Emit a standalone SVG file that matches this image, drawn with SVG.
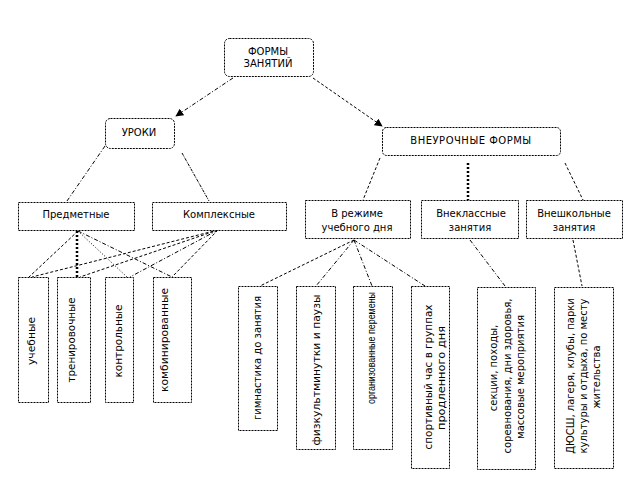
<svg xmlns="http://www.w3.org/2000/svg" width="624" height="479" viewBox="0 0 624 479">
<defs>
<style>
.box{fill:#fff;stroke:#000;stroke-width:1;stroke-dasharray:2,1}
.t{font-family:"DejaVu Sans",Verdana,sans-serif;font-size:10px;fill:#000;text-anchor:middle}
.n{font-family:"Liberation Sans",Arial,sans-serif}
.c{fill:none;stroke:#000;stroke-width:1}
.dd{stroke-dasharray:4,2,1,2}
.ds{stroke-dasharray:3,2}
.dt{stroke-dasharray:1,2}
.dk{stroke-width:2.5;stroke-dasharray:2,2}
.ddd{stroke-dasharray:3,1,1,1}
</style>
<marker id="ah" viewBox="0 0 10 10" refX="9" refY="5" markerWidth="8" markerHeight="8" markerUnits="userSpaceOnUse" orient="auto">
<path d="M0,0 L10,5 L0,10 Z" fill="#000"/>
</marker>
</defs>
<rect width="624" height="479" fill="#fff"/>
<g id="connectors">
<line class="c dd" x1="233" y1="78" x2="176" y2="116" marker-end="url(#ah)"/>
<line class="c ds" x1="313" y1="78" x2="382" y2="126" marker-end="url(#ah)"/>
<line class="c dd" x1="105" y1="146" x2="67" y2="201"/>
<line class="c ddd" x1="182" y1="153" x2="209" y2="201"/>
<line class="c ds" x1="380" y1="158" x2="363" y2="200"/>
<line class="c dk" x1="468" y1="163" x2="468" y2="200"/>
<line class="c ds" x1="565" y1="163" x2="583" y2="200"/>
<line class="c ds" x1="78" y1="231" x2="29" y2="277"/>
<line class="c dk" x1="77" y1="231" x2="77" y2="277"/>
<line class="c dt" x1="78" y1="231" x2="127" y2="277"/>
<line class="c dd" x1="78" y1="231" x2="172" y2="277"/>
<line class="c ds" x1="218" y1="230" x2="32" y2="277"/>
<line class="c ds" x1="218" y1="230" x2="80" y2="277"/>
<line class="c dd" x1="218" y1="230" x2="130" y2="277"/>
<line class="c ds" x1="218" y1="230" x2="172" y2="277"/>
<line class="c ds" x1="354" y1="240" x2="260" y2="286"/>
<line class="c dd" x1="354" y1="240" x2="316" y2="286"/>
<line class="c dd" x1="354" y1="240" x2="372" y2="286"/>
<line class="c dd" x1="354" y1="240" x2="425" y2="286"/>
<line class="c dd" x1="470" y1="240" x2="505" y2="286"/>
<line class="c ds" x1="573" y1="240" x2="582" y2="286"/>
</g>
<g id="n-formy">
<rect class="box" x="224.5" y="38.5" width="89" height="38" rx="5"/>
<text class="t" x="268" y="55">ФОРМЫ</text>
<text class="t" x="268" y="67">ЗАНЯТИЙ</text>
</g>
<g id="n-uroki">
<rect class="box" x="105.5" y="118.5" width="69" height="30" rx="5"/>
<text class="t" x="139" y="136">УРОКИ</text>
</g>
<g id="n-vneur">
<rect class="box" x="382.5" y="127.5" width="178" height="28" rx="4"/>
<text class="t" x="471" y="144" style="letter-spacing:0.5px">ВНЕУРОЧНЫЕ ФОРМЫ</text>
</g>
<g id="n-predm">
<rect class="box" x="18.5" y="202.5" width="116" height="28"/>
<text class="t" x="76" y="218">Предметные</text>
</g>
<g id="n-kompl">
<rect class="box" x="152.5" y="202.5" width="134" height="28"/>
<text class="t" x="219" y="218">Комплексные</text>
</g>
<g id="n-rezhim">
<rect class="box" x="305.5" y="200.5" width="105" height="38"/>
<text class="t" x="357" y="217">В режиме</text>
<text class="t" x="357" y="231">учебного дня</text>
</g>
<g id="n-vnekl">
<rect class="box" x="421.5" y="200.5" width="97" height="38"/>
<text class="t" x="471" y="217">Внеклассные</text>
<text class="t" x="470" y="231">занятия</text>
</g>
<g id="n-vnesh">
<rect class="box" x="526.5" y="200.5" width="96" height="38"/>
<text class="t" x="574" y="217">Внешкольные</text>
<text class="t" x="574" y="231">занятия</text>
</g>
<g id="n-uchebnye">
<rect class="box" x="18.5" y="277.5" width="30" height="125"/>
<text class="t" transform="translate(35,341) rotate(-90)" textLength="48" lengthAdjust="spacingAndGlyphs">учебные</text>
</g>
<g id="n-trenir">
<rect class="box" x="57.5" y="277.5" width="33" height="125"/>
<text class="t" transform="translate(75,340) rotate(-90)" textLength="85" lengthAdjust="spacingAndGlyphs">тренировочные</text>
</g>
<g id="n-kontr">
<rect class="box" x="105.5" y="277.5" width="28" height="125"/>
<text class="t" transform="translate(122,341) rotate(-90)" textLength="73" lengthAdjust="spacingAndGlyphs">контрольные</text>
</g>
<g id="n-kombin">
<rect class="box" x="153.5" y="277.5" width="38" height="125"/>
<text class="t" transform="translate(168,340) rotate(-90)" textLength="104" lengthAdjust="spacingAndGlyphs">комбинированные</text>
</g>
<g id="n-gimn">
<rect class="box" x="238.5" y="286.5" width="39" height="144"/>
<text class="t" transform="translate(261,358) rotate(-90)" textLength="124" lengthAdjust="spacingAndGlyphs">гимнастика до занятия</text>
</g>
<g id="n-fizk">
<rect class="box" x="296.5" y="286.5" width="39" height="163"/>
<text class="t" transform="translate(320,370) rotate(-90)" textLength="151" lengthAdjust="spacingAndGlyphs">физкультминутки и паузы</text>
</g>
<g id="n-organ">
<rect class="box" x="353.5" y="286.5" width="39" height="163"/>
<text class="t n" transform="translate(375,348) rotate(-90)" textLength="112" lengthAdjust="spacingAndGlyphs">организованные перемены</text>
</g>
<g id="n-sport">
<rect class="box" x="411.5" y="286.5" width="38" height="182"/>
<text class="t" transform="translate(432,377) rotate(-90)" textLength="145" lengthAdjust="spacingAndGlyphs">спортивный час в группах</text>
<text class="t" transform="translate(445,378) rotate(-90)" textLength="104" lengthAdjust="spacingAndGlyphs">продленного дня</text>
</g>
<g id="n-sekcii">
<rect class="box" x="477.5" y="287.5" width="58" height="182"/>
<text class="t" transform="translate(497,368) rotate(-90)">секции, походы,</text>
<text class="t" transform="translate(511,376) rotate(-90)">соревнования, дни здоровья,</text>
<text class="t" transform="translate(524,377) rotate(-90)">массовые мероприятия</text>
</g>
<g id="n-dyussh">
<rect class="box" x="554.5" y="287.5" width="59" height="181"/>
<text class="t" transform="translate(574,376) rotate(-90)">ДЮСШ, лагеря, клубы, парки</text>
<text class="t" transform="translate(587,376) rotate(-90)">культуры и отдыха, по месту</text>
<text class="t" transform="translate(600,377) rotate(-90)">жительства</text>
</g>
</svg>
